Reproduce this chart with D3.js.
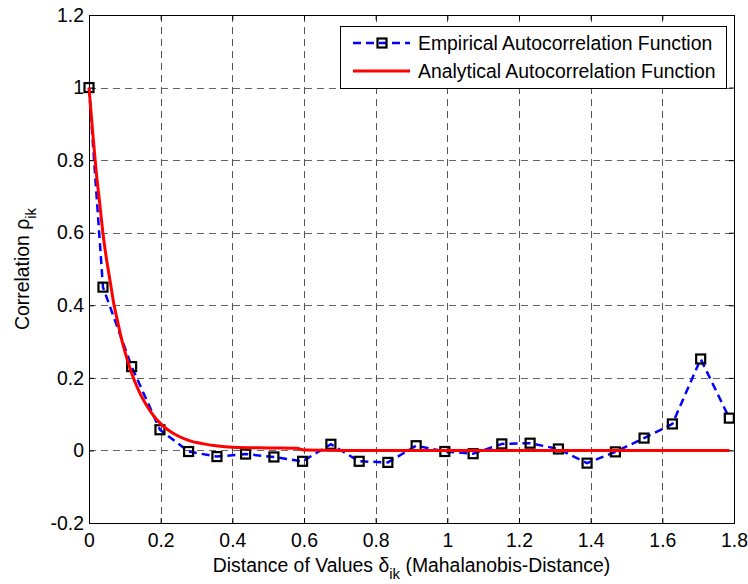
<!DOCTYPE html>
<html>
<head>
<meta charset="utf-8">
<script src="https://cdn.jsdelivr.net/npm/d3@7"></script>
<style>
  html, body { margin: 0; padding: 0; background: #fff; }
  svg { display: block; }
  text { font-family: "Liberation Sans", Arial, sans-serif; fill: #000; }
</style>
</head>
<body>
<div id="chart"></div>
<script>
// x positions of the empirical estimates (bin centres)
const empX = [0, 0.039, 0.119, 0.198, 0.278, 0.357, 0.437, 0.516, 0.596, 0.675, 0.754, 0.834,
              0.913, 0.993, 1.072, 1.152, 1.231, 1.310, 1.390, 1.469, 1.549, 1.628, 1.707, 1.787];
const empY = [1.0, 0.45, 0.231, 0.057, -0.003, -0.017, -0.01, -0.018, -0.03, 0.017, -0.03, -0.033,
              0.013, -0.003, -0.009, 0.018, 0.02, 0.004, -0.035, -0.004, 0.034, 0.073, 0.252, 0.089];

// analytical curve
const anaX = [0, 0.01, 0.02, 0.03, 0.04, 0.05, 0.06, 0.07, 0.08, 0.09, 0.10, 0.12, 0.14, 0.16,
              0.18, 0.20, 0.22, 0.25, 0.28, 0.32, 0.36, 0.40, 0.50, 0.58, 0.60, 0.70, 1.787];
const anaY = [1.0, 0.88, 0.77, 0.68, 0.59, 0.52, 0.46, 0.40, 0.355, 0.31, 0.273, 0.21, 0.162, 0.125,
              0.096, 0.074, 0.057, 0.039, 0.027, 0.018, 0.012, 0.009, 0.007, 0.006, 0.001, 0, 0];

const xTicks = [0, 0.2, 0.4, 0.6, 0.8, 1, 1.2, 1.4, 1.6, 1.8];
const xTickLabels = ["0", "0.2", "0.4", "0.6", "0.8", "1", "1.2", "1.4", "1.6", "1.8"];
const yTicks = [-0.2, 0, 0.2, 0.4, 0.6, 0.8, 1, 1.2];
const yTickLabels = ["-0.2", "0", "0.2", "0.4", "0.6", "0.8", "1", "1.2"];

const seriesNames = ["Empirical Autocorrelation Function", "Analytical Autocorrelation Function"];

const W = 748, H = 584;
const pLeft = 89, pRight = 734, pTop = 15, pBottom = 523;
const fontSize = 19.4;

const svg = d3.select("#chart").append("svg")
    .attr("width", W)
    .attr("height", H);

const x = d3.scaleLinear().domain([0, 1.8]).range([pLeft, pRight]);
const y = d3.scaleLinear().domain([-0.2, 1.2]).range([pBottom, pTop]);

// grid
const grid = svg.append("g").attr("class", "grid");
grid.selectAll(".vgrid")
    .data(xTicks.slice(1, -1))
    .enter().append("line")
    .attr("x1", d => Math.round(x(d)) + 0.5)
    .attr("x2", d => Math.round(x(d)) + 0.5)
    .attr("y1", pTop).attr("y2", pBottom)
    .attr("stroke", "#555").attr("stroke-width", 1)
    .attr("stroke-dasharray", "7,5");
grid.selectAll(".hgrid")
    .data(yTicks.slice(1, -1))
    .enter().append("line")
    .attr("y1", d => Math.round(y(d)) + 0.5)
    .attr("y2", d => Math.round(y(d)) + 0.5)
    .attr("x1", pLeft).attr("x2", pRight)
    .attr("stroke", "#666").attr("stroke-width", 1)
    .attr("stroke-dasharray", "7,5");

// axes with inner ticks on all four sides
const tickLen = 5;
const xAxisB = d3.axisBottom(x).tickValues(xTicks).tickSizeInner(-tickLen).tickSizeOuter(0)
    .tickPadding(10).tickFormat((d, i) => xTickLabels[i]);
const xAxisT = d3.axisTop(x).tickValues(xTicks).tickSizeInner(-tickLen).tickSizeOuter(0).tickFormat("");
const yAxisL = d3.axisLeft(y).tickValues(yTicks).tickSizeInner(-tickLen).tickSizeOuter(0)
    .tickPadding(5).tickFormat((d, i) => yTickLabels[i]);
const yAxisR = d3.axisRight(y).tickValues(yTicks).tickSizeInner(-tickLen).tickSizeOuter(0).tickFormat("");

function styleAxis(g) {
    g.select(".domain").remove();
    g.selectAll(".tick line").attr("stroke", "#000");
    g.selectAll(".tick text")
        .style("font-family", "'Liberation Sans', Arial, sans-serif")
        .style("font-size", fontSize + "px")
        .attr("fill", "#000");
}

svg.append("g").attr("transform", `translate(0,${pBottom})`).call(xAxisB).call(styleAxis);
svg.append("g").attr("transform", `translate(0,${pTop})`).call(xAxisT).call(styleAxis);
svg.append("g").attr("transform", `translate(${pLeft},0)`).call(yAxisL).call(styleAxis);
svg.append("g").attr("transform", `translate(${pRight},0)`).call(yAxisR).call(styleAxis);

// box
svg.append("rect")
    .attr("x", pLeft + 0.5).attr("y", pTop + 0.5)
    .attr("width", pRight - pLeft).attr("height", pBottom - pTop)
    .attr("fill", "none").attr("stroke", "#000").attr("stroke-width", 1);

// empirical series
const empData = empX.map((d, i) => [d, empY[i]]);
const line = d3.line().x(d => x(d[0])).y(d => y(d[1]));

svg.append("path")
    .datum(empData)
    .attr("d", line)
    .attr("fill", "none")
    .attr("stroke", "#0000ff")
    .attr("stroke-width", 2.5)
    .attr("stroke-dasharray", "8,5");

const mk = 9;
svg.selectAll(".marker")
    .data(empData)
    .enter().append("rect")
    .attr("class", "marker")
    .attr("x", d => x(d[0]) - mk / 2)
    .attr("y", d => y(d[1]) - mk / 2)
    .attr("width", mk).attr("height", mk)
    .attr("fill", "none")
    .attr("stroke", "#000")
    .attr("stroke-width", 2.2);

// analytical series (drawn on top)
const anaData = anaX.map((d, i) => [d, anaY[i]]);
svg.append("path")
    .datum(anaData)
    .attr("d", d3.line().curve(d3.curveMonotoneX).x(d => x(d[0])).y(d => y(d[1])))
    .attr("fill", "none")
    .attr("stroke", "#ff0000")
    .attr("stroke-width", 3);

// legend
const lg = svg.append("g");
lg.append("rect")
    .attr("x", 340.5).attr("y", 26.5)
    .attr("width", 386).attr("height", 62)
    .attr("fill", "#fff").attr("stroke", "#000").attr("stroke-width", 1);
lg.append("line")
    .attr("x1", 353).attr("x2", 410).attr("y1", 43).attr("y2", 43)
    .attr("stroke", "#0000ff").attr("stroke-width", 2.5).attr("stroke-dasharray", "8,5");
lg.append("rect")
    .attr("x", 382 - mk / 2).attr("y", 43 - mk / 2)
    .attr("width", mk).attr("height", mk)
    .attr("fill", "none").attr("stroke", "#000").attr("stroke-width", 2.2);
lg.append("line")
    .attr("x1", 353).attr("x2", 410).attr("y1", 71).attr("y2", 71)
    .attr("stroke", "#ff0000").attr("stroke-width", 3);
lg.selectAll(".lgtext")
    .data(seriesNames)
    .enter().append("text")
    .attr("x", 418)
    .attr("y", (d, i) => 43 + i * 28)
    .attr("dy", "0.35em")
    .style("font-size", fontSize + "px")
    .text(d => d);

// axis labels
const xl = svg.append("text")
    .attr("x", (pLeft + pRight) / 2)
    .attr("y", 572)
    .attr("text-anchor", "middle")
    .style("font-size", fontSize + "px");
xl.append("tspan").text("Distance of Values δ");
xl.append("tspan").attr("dy", 7).style("font-size", "15px").text("ik");
xl.append("tspan").attr("dy", -7).text(" (Mahalanobis-Distance)");

const yl = svg.append("text")
    .attr("transform", `translate(29,${(pTop + pBottom) / 2}) rotate(-90)`)
    .attr("text-anchor", "middle")
    .style("font-size", fontSize + "px");
yl.append("tspan").text("Correlation ρ");
yl.append("tspan").attr("dy", 7).style("font-size", "15px").text("ik");
</script>
</body>
</html>
